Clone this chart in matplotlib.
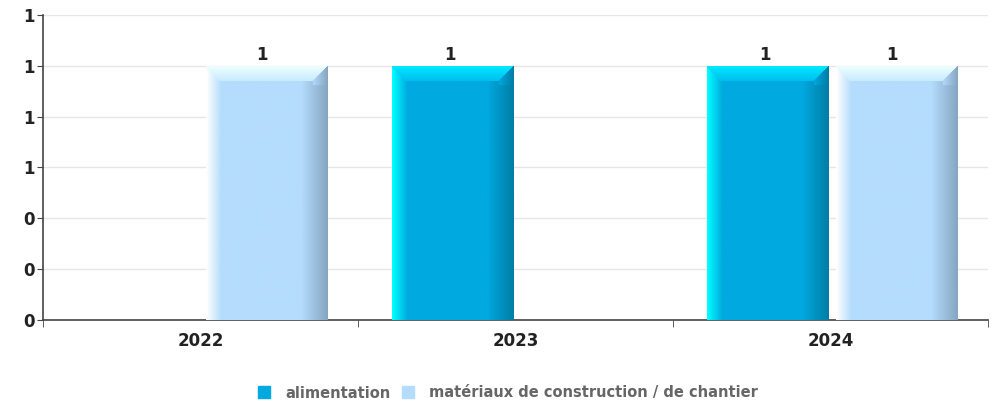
import numpy as np
import matplotlib.pyplot as plt
from matplotlib.patches import Rectangle
from matplotlib.ticker import FormatStrFormatter, FixedLocator

years = ['2022', '2023', '2024']
series_names = ['alimentation', 'matériaux de construction / de chantier']
alimentation = [0, 1, 1]
materiaux = [1, 0, 1]

# couleurs: face principale, bord gauche, bord droit, haut (exterieur), haut (interieur)
styles = {
    'alimentation': dict(main='#00a9e0', left='#00ffff', right='#007ea6', top0='#00eaff', top1='#00bdf0'),
    'materiaux': dict(main='#b4dcfc', left='#ffffff', right='#86a6c2', top0='#f0ffff', top1='#c6eafe'),
}
legend_colors = ['#00a9e0', '#b4dcfc']

W_PX, H_PX = 998, 404
fig = plt.figure(figsize=(W_PX / 100, H_PX / 100), dpi=100)
ax = fig.add_axes([43 / W_PX, 1 - 320 / H_PX, 945 / W_PX, 305 / H_PX])

px_per_x = 945 / 3.0
px_per_y = 305 / 1.2


def rgb(c):
    c = c.lstrip('#')
    return np.array([int(c[i:i + 2], 16) / 255 for i in (0, 2, 4)])


def bar_image(w, h, st):
    W = max(int(round(w * px_per_x)), 2)
    H = max(int(round(h * px_per_y)), 2)
    xx, yy = np.meshgrid(np.arange(W), np.arange(H))
    dl = xx.astype(float)
    dr = (W - 1 - xx).astype(float)
    dt = yy.astype(float)
    bl, br, bt = 15.0, 26.0, 16.0
    main, left, right = rgb(st['main']), rgb(st['left']), rgb(st['right'])
    top0, top1 = rgb(st['top0']), rgb(st['top1'])
    img = np.ones((H, W, 3)) * main
    t = np.clip(dl / bl, 0, 1)[..., None]
    img = np.where((dl < bl)[..., None], left * (1 - t) + main * t, img)
    t = np.clip(dr / br, 0, 1)[..., None]
    img = np.where((dr < br)[..., None], right * (1 - t) + main * t, img)
    # face du haut en biseau
    top_mask = (dt < bt) & (dt <= dr * 16 / 15) & (dt <= dl + 2)
    t = np.clip(dt / bt, 0, 1)[..., None]
    img = np.where(top_mask[..., None], top0 * (1 - t) + top1 * t, img)
    # coin haut droit: facette sombre
    rc = (dr < 15) & (dt > dr * 16 / 15) & (dt < bt + 4)
    t = np.clip(dr / 15, 0, 1)[..., None]
    img = np.where(rc[..., None], right * (1 - t) + main * t, img)
    return img


bar_w = 0.385
offsets = [-0.2, 0.21]
label_shift = {'alimentation': -1.5, 'materiaux': -3.5}
x = np.arange(len(years))
for vals, off, key in [(alimentation, offsets[0], 'alimentation'), (materiaux, offsets[1], 'materiaux')]:
    bars = ax.bar(x + off, vals, width=bar_w, color='none', edgecolor='none', zorder=3)
    for b, v in zip(bars, vals):
        if v <= 0:
            continue
        x0 = b.get_x()
        im = ax.imshow(bar_image(bar_w, v, styles[key]), extent=[x0, x0 + bar_w, 0, v],
                       aspect='auto', zorder=3, interpolation='bilinear')
        im.set_clip_path(b)
        ax.annotate('%.0f' % v, (x0 + bar_w / 2, v), xytext=(label_shift[key], 1), textcoords='offset points',
                    ha='center', va='bottom', fontsize=12, fontweight='bold', color='#222222')

ax.set_xlim(-0.5, 2.5)
ax.set_ylim(0, 1.2)
ax.set_yticks(np.arange(0, 1.21, 0.2))
ax.yaxis.set_major_formatter(FormatStrFormatter('%.0f'))
ax.set_xticks(x)
ax.set_xticklabels(years)
ax.xaxis.set_minor_locator(FixedLocator([-0.5, 0.5, 1.5, 2.5]))
ax.tick_params(axis='x', which='major', length=0, pad=9, labelsize=12, labelcolor='#222222')
ax.tick_params(axis='x', which='minor', length=5, color='#444444')
ax.tick_params(axis='y', length=4, color='#444444', labelsize=12, labelcolor='#222222', pad=2)
for lab in ax.get_xticklabels() + ax.get_yticklabels():
    lab.set_fontweight('bold')
ax.grid(axis='y', color='#e6e6e6', linewidth=1, zorder=0)
ax.set_axisbelow(True)
for s in ['top', 'right']:
    ax.spines[s].set_visible(False)
ax.spines['left'].set_color('#444444')
ax.spines['bottom'].set_color('#444444')
ax.spines['left'].set_linewidth(1.2)
ax.spines['bottom'].set_linewidth(1.2)

# legende dessinee a la main (alignement des lignes de base)
leg_x = [258, 402]
for name, c, lx in zip(series_names, legend_colors, leg_x):
    fig.patches.append(Rectangle((lx / W_PX, 1 - 398 / H_PX), 12 / W_PX, 12 / H_PX,
                                 transform=fig.transFigure, color=c))
    fig.text((lx + 27) / W_PX, 1 - 397.5 / H_PX, name, ha='left', va='baseline',
             fontsize=10.5, fontweight='bold', color='#666666')

fig.savefig('out.png', dpi=100)
